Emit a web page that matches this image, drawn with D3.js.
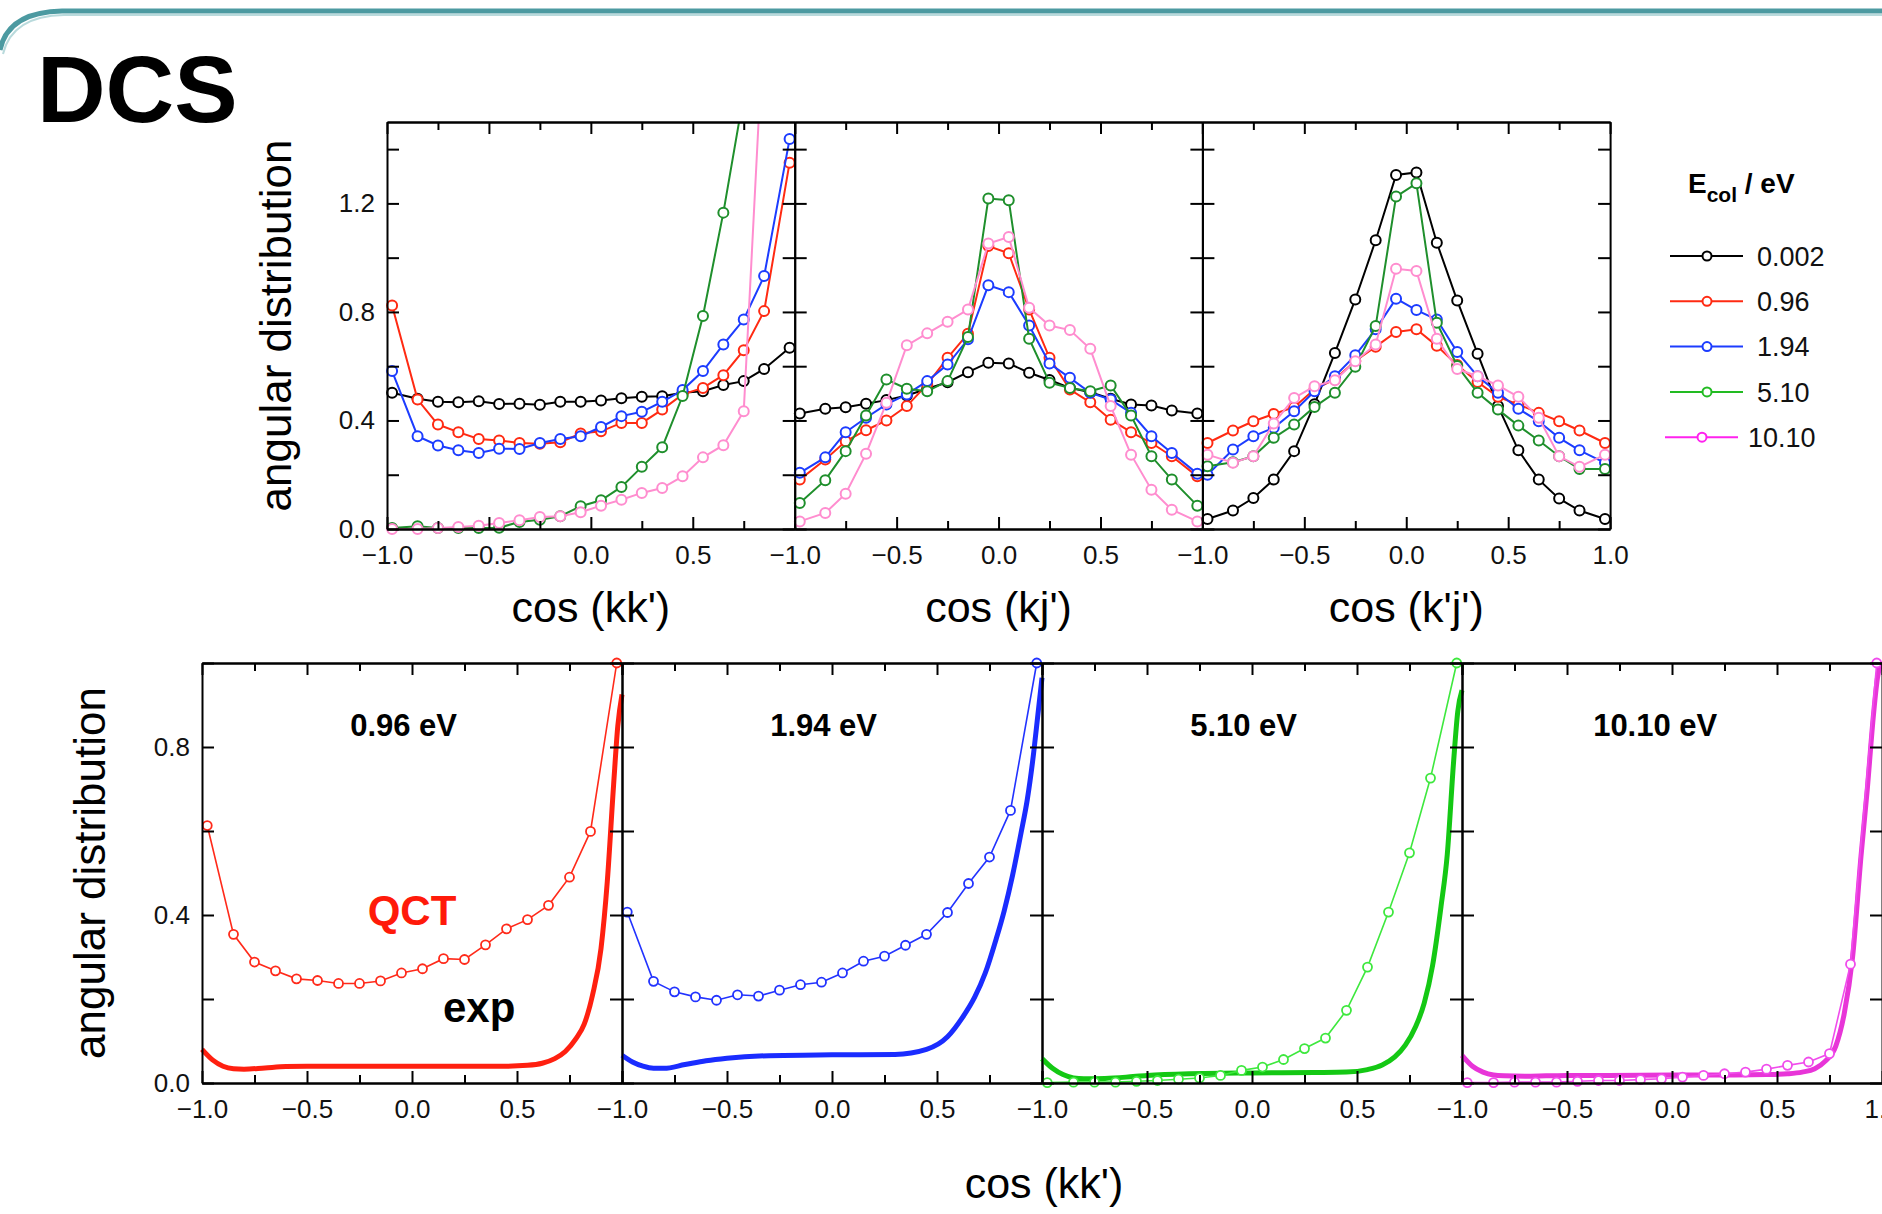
<!DOCTYPE html>
<html>
<head>
<meta charset="utf-8">
<script src="https://cdn.jsdelivr.net/npm/d3@7"></script>
<style>
  body { margin: 0; background: #fff; }
  svg { display: block; font-family: "Liberation Sans", Arial, Helvetica, sans-serif; }
</style>
</head>
<body>
<svg width="1882" height="1214"></svg>
<script>
var width = 1882;
var height = 1214;

// ---- data ----
var cosBins = [-0.975, -0.85, -0.75, -0.65, -0.55, -0.45, -0.35, -0.25, -0.15, -0.05,
               0.05, 0.15, 0.25, 0.35, 0.45, 0.55, 0.65, 0.75, 0.85, 0.975];

var energies = ["0.002", "0.96", "1.94", "5.10", "10.10"];
var topColors = ["#000000", "#ff2a12", "#1c3cff", "#1f8f2c", "#ff8dcf"];
var legendColors = ["#000000", "#ff2a12", "#1c3cff", "#22bb22", "#ff22ee"];
var topTitles = ["cos (kk')", "cos (kj')", "cos (k'j')"];

// one row per collision energy (0.002, 0.96, 1.94, 5.10, 10.10)
var distKK = [
  [0.502, 0.480, 0.469, 0.467, 0.471, 0.461, 0.462, 0.458, 0.469, 0.469, 0.474, 0.482, 0.487, 0.489, 0.502, 0.508, 0.531, 0.545, 0.590, 0.668],
  [0.824, 0.477, 0.385, 0.357, 0.332, 0.326, 0.317, 0.314, 0.320, 0.352, 0.360, 0.391, 0.391, 0.440, 0.496, 0.520, 0.567, 0.659, 0.803, 1.350],
  [0.582, 0.342, 0.308, 0.290, 0.280, 0.296, 0.295, 0.317, 0.332, 0.342, 0.376, 0.416, 0.432, 0.469, 0.512, 0.582, 0.680, 0.772, 0.932, 1.437],
  [0.004, 0.010, 0.004, 0.004, 0.004, 0.005, 0.026, 0.034, 0.047, 0.084, 0.106, 0.155, 0.229, 0.301, 0.490, 0.785, 1.166, 1.600, 2.100, 2.500],
  [0.000, 0.000, 0.004, 0.007, 0.012, 0.022, 0.032, 0.044, 0.047, 0.062, 0.086, 0.108, 0.133, 0.151, 0.194, 0.264, 0.309, 0.434, 1.900, 3.000]
];
var distKJ = [
  [0.426, 0.443, 0.449, 0.462, 0.475, 0.492, 0.517, 0.541, 0.578, 0.613, 0.610, 0.576, 0.549, 0.520, 0.504, 0.480, 0.459, 0.455, 0.437, 0.426],
  [0.182, 0.256, 0.323, 0.364, 0.400, 0.453, 0.533, 0.631, 0.720, 1.043, 1.016, 0.809, 0.631, 0.514, 0.467, 0.403, 0.357, 0.317, 0.268, 0.194],
  [0.207, 0.264, 0.357, 0.410, 0.459, 0.496, 0.545, 0.606, 0.699, 0.898, 0.873, 0.750, 0.610, 0.557, 0.502, 0.477, 0.428, 0.342, 0.280, 0.204],
  [0.096, 0.180, 0.287, 0.418, 0.551, 0.517, 0.508, 0.545, 0.708, 1.218, 1.212, 0.701, 0.539, 0.520, 0.508, 0.529, 0.418, 0.268, 0.182, 0.086],
  [0.028, 0.059, 0.130, 0.277, 0.465, 0.677, 0.721, 0.764, 0.809, 1.052, 1.076, 0.815, 0.750, 0.733, 0.664, 0.453, 0.274, 0.145, 0.071, 0.028]
];
var distKpJ = [
  [0.037, 0.068, 0.114, 0.182, 0.287, 0.460, 0.649, 0.846, 1.064, 1.305, 1.314, 1.055, 0.842, 0.646, 0.453, 0.290, 0.182, 0.112, 0.068, 0.037],
  [0.317, 0.363, 0.397, 0.424, 0.449, 0.515, 0.552, 0.619, 0.672, 0.726, 0.736, 0.675, 0.604, 0.542, 0.487, 0.459, 0.428, 0.397, 0.363, 0.317],
  [0.200, 0.293, 0.342, 0.373, 0.434, 0.508, 0.563, 0.640, 0.736, 0.849, 0.807, 0.772, 0.652, 0.563, 0.502, 0.443, 0.397, 0.336, 0.290, 0.244],
  [0.231, 0.246, 0.268, 0.336, 0.385, 0.450, 0.502, 0.598, 0.748, 1.225, 1.274, 0.760, 0.601, 0.502, 0.440, 0.381, 0.326, 0.268, 0.221, 0.221],
  [0.274, 0.244, 0.268, 0.389, 0.483, 0.526, 0.548, 0.618, 0.680, 0.959, 0.951, 0.701, 0.590, 0.563, 0.529, 0.487, 0.410, 0.268, 0.229, 0.274]
];

// bottom row: QCT (points) vs experiment (smooth curve), cos(kk')
var bottomLabels = ["0.96 eV", "1.94 eV", "5.10 eV", "10.10 eV"];
var qctColors = ["#ff2a1a", "#2233ff", "#3ee83e", "#f04cec"];
var expColors = ["#ff2010", "#1a2cff", "#14c814", "#e835d8"];

var qct096 = [0.613, 0.354, 0.288, 0.267, 0.248, 0.244, 0.237, 0.237, 0.243, 0.262, 0.272, 0.296, 0.294, 0.329, 0.367, 0.389, 0.423, 0.490, 0.599, 1.000];
var qct194 = [0.407, 0.242, 0.217, 0.205, 0.197, 0.210, 0.207, 0.221, 0.234, 0.240, 0.262, 0.290, 0.302, 0.328, 0.354, 0.406, 0.475, 0.538, 0.649, 1.000];
var qct510 = [0.001, 0.002, 0.002, 0.002, 0.004, 0.006, 0.009, 0.012, 0.018, 0.030, 0.038, 0.056, 0.082, 0.107, 0.173, 0.276, 0.407, 0.548, 0.726, 1.000];
var qct1010 = [0.001, 0.001, 0.002, 0.002, 0.002, 0.004, 0.006, 0.006, 0.008, 0.010, 0.014, 0.018, 0.022, 0.026, 0.033, 0.042, 0.050, 0.070, 0.283, 1.000];

var expCos = [-1, -0.95, -0.9, -0.85, -0.8, -0.7, -0.6, -0.5, -0.3, 0, 0.3, 0.45,
              0.55, 0.62, 0.68, 0.73, 0.78, 0.82, 0.86, 0.9, 0.93, 0.96, 0.98, 1];
var exp096 = [0.080, 0.055, 0.040, 0.034, 0.033, 0.036, 0.039, 0.040, 0.040, 0.040, 0.040, 0.040,
              0.042, 0.047, 0.058, 0.075, 0.105, 0.140, 0.210, 0.320, 0.480, 0.710, 0.850, 0.925];
var exp194 = [0.066, 0.050, 0.040, 0.035, 0.035, 0.044, 0.053, 0.059, 0.065, 0.067, 0.068, 0.080,
              0.110, 0.155, 0.205, 0.262, 0.340, 0.410, 0.495, 0.595, 0.675, 0.785, 0.875, 0.965];
var exp510 = [0.058, 0.035, 0.020, 0.012, 0.010, 0.011, 0.014, 0.018, 0.022, 0.024, 0.025, 0.026,
              0.032, 0.043, 0.062, 0.090, 0.135, 0.190, 0.280, 0.420, 0.545, 0.765, 0.885, 0.935];
var exp1010 = [0.066, 0.040, 0.026, 0.019, 0.017, 0.016, 0.017, 0.018, 0.018, 0.019, 0.019, 0.020,
               0.022, 0.026, 0.034, 0.052, 0.088, 0.165, 0.300, 0.540, 0.700, 0.880, 0.970, 1.000];

var qctSets = [qct096, qct194, qct510, qct1010];
var expSets = [exp096, exp194, exp510, exp1010];

// ---- layout ----
var topLeft = 387, topW = 407.7, topTop = 122, topBottom = 529;
var botLeft = 202, botW = 420, botTop = 663, botBottom = 1083;

var fmt = d3.format(".1f");
var majorX = [-1, -0.5, 0, 0.5, 1];
var minorX = [-0.75, -0.25, 0.25, 0.75];

var svg = d3.select("svg");

// slide decoration
svg.append("path")
    .attr("d", "M0,50 Q8,12 62,11 L1882,11")
    .attr("fill", "none")
    .attr("stroke", "#4c9aa1")
    .attr("stroke-width", 5);
svg.append("path")
    .attr("d", "M3,54 Q12,16 64,15 L1882,15")
    .attr("fill", "none")
    .attr("stroke", "#b9dadc")
    .attr("stroke-width", 2);

svg.append("text")
    .attr("x", 37)
    .attr("y", 122)
    .style("font-size", "95px")
    .style("font-weight", "bold")
    .text("DCS");

function styleAxis(g, size) {
  g.attr("font-family", null).attr("font-size", size);
  g.selectAll(".domain, .tick line").attr("stroke-width", 2);
  g.selectAll(".tick text").attr("fill", "#111");
}

// four inward-ticked sides around one panel
function frame(x, y, xLabels, yTicks, yLabels) {
  var yb = y.range()[0], yt = y.range()[1];
  var xl = x.range()[0], xr = x.range()[1];
  var g = svg.append("g");

  g.append("g")
      .attr("transform", `translate(0,${yb})`)
      .call(d3.axisBottom(x).tickValues(minorX).tickSize(-8).tickSizeOuter(0).tickFormat(""))
      .call(styleAxis, 26);
  g.append("g")
      .attr("transform", `translate(0,${yb})`)
      .call(d3.axisBottom(x).tickValues(majorX).tickSize(-12).tickSizeOuter(0).tickPadding(17)
        .tickFormat(d => xLabels.indexOf(d) >= 0 ? fmt(d) : ""))
      .call(styleAxis, 26);
  g.append("g")
      .attr("transform", `translate(0,${yt})`)
      .call(d3.axisTop(x).tickValues(minorX).tickSize(-8).tickSizeOuter(0).tickFormat(""))
      .call(styleAxis, 26);
  g.append("g")
      .attr("transform", `translate(0,${yt})`)
      .call(d3.axisTop(x).tickValues(majorX).tickSize(-12).tickSizeOuter(0).tickFormat(""))
      .call(styleAxis, 26);
  g.append("g")
      .attr("transform", `translate(${xl},0)`)
      .call(d3.axisLeft(y).tickValues(yTicks).tickSize(-12).tickSizeOuter(0).tickPadding(12)
        .tickFormat(d => yLabels.indexOf(d) >= 0 ? fmt(d) : ""))
      .call(styleAxis, 26);
  g.append("g")
      .attr("transform", `translate(${xr},0)`)
      .call(d3.axisRight(y).tickValues(yTicks).tickSize(-12).tickSizeOuter(0).tickFormat(""))
      .call(styleAxis, 26);
}

// ---- top row: three angular distributions ----
var topSets = [distKK, distKJ, distKpJ];

topSets.forEach(function(sets, p) {
  var x0 = topLeft + p * topW;
  var x = d3.scaleLinear().domain([-1, 1]).range([x0, x0 + topW]);
  var y = d3.scaleLinear().domain([0, 1.5]).range([topBottom, topTop]);

  var clipId = "clipTop" + p;
  svg.append("clipPath").attr("id", clipId)
    .append("rect")
      .attr("x", x0 - 12).attr("y", topTop)
      .attr("width", topW + 24).attr("height", topBottom - topTop + 20);

  var line = d3.line().x((d, i) => x(cosBins[i])).y(d => y(d));
  var g = svg.append("g").attr("clip-path", `url(#${clipId})`);

  sets.forEach(function(vals, s) {
    g.append("path")
        .attr("d", line(vals))
        .attr("fill", "none")
        .attr("stroke", topColors[s])
        .attr("stroke-width", 2);
    g.selectAll(null)
      .data(vals)
      .enter()
      .append("circle")
        .attr("cx", (d, i) => x(cosBins[i]))
        .attr("cy", d => y(d))
        .attr("r", 5)
        .attr("fill", "#fff")
        .attr("stroke", topColors[s])
        .attr("stroke-width", 2);
  });

  frame(x, y,
        p === 2 ? [-1, -0.5, 0, 0.5, 1] : [-1, -0.5, 0, 0.5],
        [0, 0.2, 0.4, 0.6, 0.8, 1.0, 1.2, 1.4],
        p === 0 ? [0, 0.4, 0.8, 1.2] : []);

  svg.append("text")
      .attr("x", x(0))
      .attr("y", 622)
      .style("text-anchor", "middle")
      .style("font-size", "43px")
      .text(topTitles[p]);
});

// y-axis label, top row
svg.append("text")
    .attr("transform", `translate(276,${(topTop + topBottom) / 2}) rotate(-90)`)
    .attr("dy", "0.35em")
    .style("text-anchor", "middle")
    .style("font-size", "44px")
    .text("angular distribution");

// legend
var legend = svg.append("g");
legend.append("text")
    .attr("x", 1688)
    .attr("y", 193)
    .style("font-size", "28px")
    .style("font-weight", "bold")
    .call(t => {
      t.append("tspan").text("E");
      t.append("tspan").attr("dy", 9).style("font-size", "21px").text("col");
      t.append("tspan").attr("dy", -9).text(" / eV");
    });

var rows = legend.selectAll("g.row")
  .data(energies)
  .enter()
  .append("g")
    .attr("class", "row")
    .attr("transform", (d, i) => `translate(0,${256 + i * 45.3})`);
rows.append("line")
    .attr("x1", (d, i) => i === 4 ? 1665 : 1670)
    .attr("x2", (d, i) => i === 4 ? 1738 : 1743)
    .attr("stroke", (d, i) => legendColors[i])
    .attr("stroke-width", 2);
rows.append("circle")
    .attr("cx", (d, i) => i === 4 ? 1702 : 1707)
    .attr("r", 4.5)
    .attr("fill", "#fff")
    .attr("stroke", (d, i) => legendColors[i])
    .attr("stroke-width", 2);
rows.append("text")
    .attr("x", (d, i) => i === 4 ? 1748 : 1757)
    .attr("dy", "0.36em")
    .style("font-size", "27px")
    .attr("fill", "#111")
    .text(d => d);

// ---- bottom row: QCT vs experiment ----
bottomLabels.forEach(function(label, p) {
  var x0 = botLeft + p * botW;
  var x = d3.scaleLinear().domain([-1, 1]).range([x0, x0 + botW]);
  var y = d3.scaleLinear().domain([0, 1]).range([botBottom, botTop]);

  svg.append("path")
      .attr("d", d3.line().curve(d3.curveMonotoneX)
        .x((d, i) => x(expCos[i])).y(d => y(d))(expSets[p]))
      .attr("fill", "none")
      .attr("stroke", expColors[p])
      .attr("stroke-width", 5);

  svg.append("path")
      .attr("d", d3.line().x((d, i) => x(cosBins[i])).y(d => y(d))(qctSets[p]))
      .attr("fill", "none")
      .attr("stroke", qctColors[p])
      .attr("stroke-width", 1.6);

  svg.selectAll(null)
    .data(qctSets[p])
    .enter()
    .append("circle")
      .attr("cx", (d, i) => x(cosBins[i]))
      .attr("cy", d => y(d))
      .attr("r", 4.5)
      .attr("fill", "#fff")
      .attr("stroke", qctColors[p])
      .attr("stroke-width", 1.8);

  frame(x, y,
        p === 3 ? [-1, -0.5, 0, 0.5, 1] : [-1, -0.5, 0, 0.5],
        [0, 0.2, 0.4, 0.6, 0.8, 1.0],
        p === 0 ? [0, 0.4, 0.8] : []);

  svg.append("text")
      .attr("x", x(p === 3 ? -0.08 : -0.04))
      .attr("y", 736)
      .style("text-anchor", "middle")
      .style("font-size", "31px")
      .style("font-weight", "bold")
      .text(label);

  if (p === 0) {
    svg.append("text")
        .attr("x", x(0))
        .attr("y", y(0.376))
        .style("text-anchor", "middle")
        .style("font-size", "42px")
        .style("font-weight", "bold")
        .attr("fill", "#ff1a0a")
        .text("QCT");
    svg.append("text")
        .attr("x", x(0.32))
        .attr("y", y(0.145))
        .style("text-anchor", "middle")
        .style("font-size", "42px")
        .style("font-weight", "bold")
        .text("exp");
  }
});

svg.append("text")
    .attr("transform", `translate(90,${(botTop + botBottom) / 2}) rotate(-90)`)
    .attr("dy", "0.35em")
    .style("text-anchor", "middle")
    .style("font-size", "44px")
    .text("angular distribution");

svg.append("text")
    .attr("x", 1044)
    .attr("y", 1198)
    .style("text-anchor", "middle")
    .style("font-size", "43px")
    .text("cos (kk')");
</script>
</body>
</html>
